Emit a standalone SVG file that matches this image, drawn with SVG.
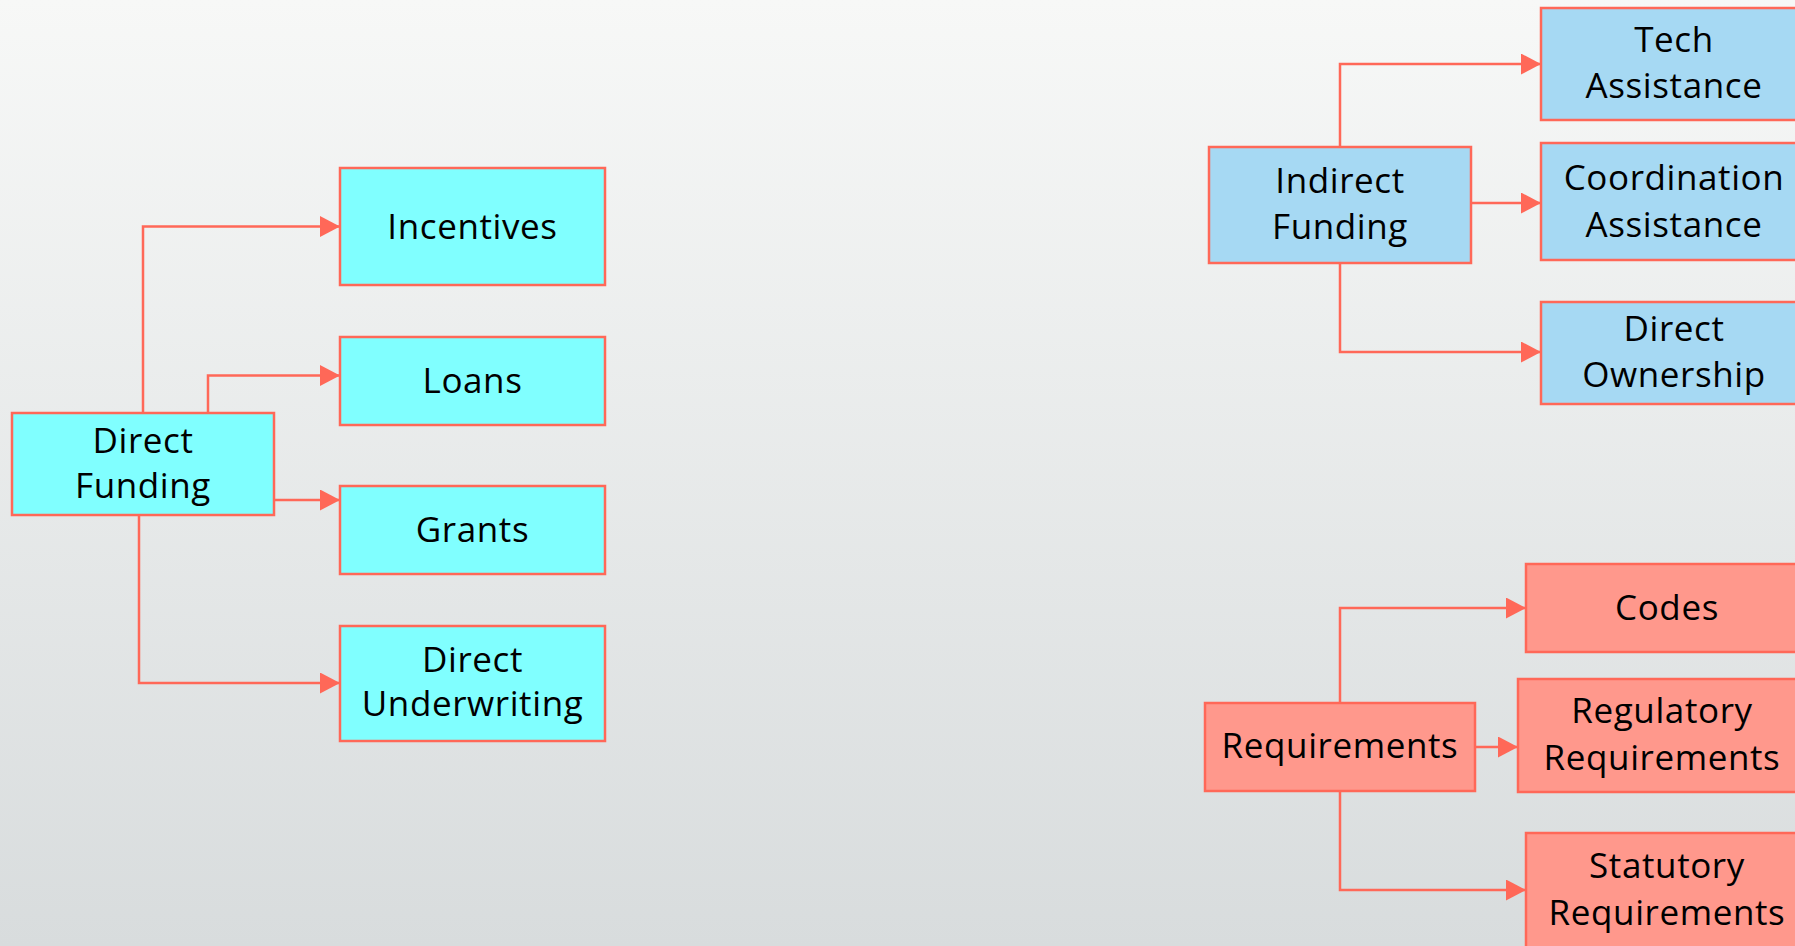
<svg xmlns="http://www.w3.org/2000/svg" width="1795" height="946" viewBox="0 0 1795 946">
  <defs>
    <linearGradient id="bg" x1="0" y1="0" x2="0" y2="1">
      <stop offset="0" stop-color="#f7f8f7"/>
      <stop offset="1" stop-color="#d8dcdd"/>
    </linearGradient>
    <marker id="arrow" markerUnits="userSpaceOnUse" markerWidth="22" markerHeight="22" refX="20" refY="10.5" orient="auto">
      <path d="M0,0 L20,10.5 L0,21 Z" fill="#ff6858"/>
    </marker>
    <style>
      .box { stroke: #ff6858; stroke-width: 2.5; }
      .cyan { fill: #80ffff; }
      .blue { fill: #a6d9f3; }
      .salmon { fill: #ff988c; }
      .lbl { font-family: "Open Sans", "Noto Sans", "Liberation Sans", sans-serif; font-size: 35px; letter-spacing: 0.6px; fill: #000; text-anchor: middle; }
      .wire { fill: none; stroke: #ff6858; stroke-width: 2.5; marker-end: url(#arrow); }
    </style>
  </defs>

  <rect x="0" y="0" width="1795" height="946" fill="url(#bg)"/>

  <!-- connectors -->
  <g id="connectors">
    <path class="wire" d="M143 413 V226.5 H340"/>
    <path class="wire" d="M208 413 V375.5 H340"/>
    <path class="wire" d="M274 500 H340"/>
    <path class="wire" d="M139 515 V683 H340"/>
    <path class="wire" d="M1340 147 V64 H1541"/>
    <path class="wire" d="M1471 203 H1541"/>
    <path class="wire" d="M1340 263 V352 H1541"/>
    <path class="wire" d="M1340 703 V608 H1526"/>
    <path class="wire" d="M1475 747 H1518"/>
    <path class="wire" d="M1340 792 V890 H1526"/>
  </g>

  <!-- direct funding branch -->
  <g id="direct-funding">
    <rect class="box cyan" x="12" y="413" width="262" height="102"/>
    <text class="lbl" x="143" y="453">Direct</text>
    <text class="lbl" x="143" y="498">Funding</text>
  </g>
  <g id="incentives">
    <rect class="box cyan" x="340" y="168" width="265" height="117"/>
    <text class="lbl" x="472.5" y="239">Incentives</text>
  </g>
  <g id="loans">
    <rect class="box cyan" x="340" y="337" width="265" height="88"/>
    <text class="lbl" x="472.5" y="393">Loans</text>
  </g>
  <g id="grants">
    <rect class="box cyan" x="340" y="486" width="265" height="88"/>
    <text class="lbl" x="472.5" y="542">Grants</text>
  </g>
  <g id="direct-underwriting">
    <rect class="box cyan" x="340" y="626" width="265" height="115"/>
    <text class="lbl" x="472.5" y="672">Direct</text>
    <text class="lbl" x="472.5" y="716">Underwriting</text>
  </g>

  <!-- indirect funding branch -->
  <g id="indirect-funding">
    <rect class="box blue" x="1209" y="147" width="262" height="116"/>
    <text class="lbl" x="1340" y="193">Indirect</text>
    <text class="lbl" x="1340" y="239">Funding</text>
  </g>
  <g id="tech-assistance">
    <rect class="box blue" x="1541" y="8" width="266" height="112"/>
    <text class="lbl" x="1674" y="52">Tech</text>
    <text class="lbl" x="1674" y="98">Assistance</text>
  </g>
  <g id="coordination-assistance">
    <rect class="box blue" x="1541" y="143" width="266" height="117"/>
    <text class="lbl" x="1674" y="190">Coordination</text>
    <text class="lbl" x="1674" y="237">Assistance</text>
  </g>
  <g id="direct-ownership">
    <rect class="box blue" x="1541" y="302" width="266" height="102"/>
    <text class="lbl" x="1674" y="341">Direct</text>
    <text class="lbl" x="1674" y="387">Ownership</text>
  </g>

  <!-- requirements branch -->
  <g id="requirements">
    <rect class="box salmon" x="1205" y="703" width="270" height="88"/>
    <text class="lbl" x="1340" y="758">Requirements</text>
  </g>
  <g id="codes">
    <rect class="box salmon" x="1526" y="564" width="282" height="88"/>
    <text class="lbl" x="1667" y="620">Codes</text>
  </g>
  <g id="regulatory-requirements">
    <rect class="box salmon" x="1518" y="679" width="288" height="113"/>
    <text class="lbl" x="1662" y="723">Regulatory</text>
    <text class="lbl" x="1662" y="770">Requirements</text>
  </g>
  <g id="statutory-requirements">
    <rect class="box salmon" x="1526" y="833" width="282" height="120"/>
    <text class="lbl" x="1667" y="878">Statutory</text>
    <text class="lbl" x="1667" y="925">Requirements</text>
  </g>
</svg>
